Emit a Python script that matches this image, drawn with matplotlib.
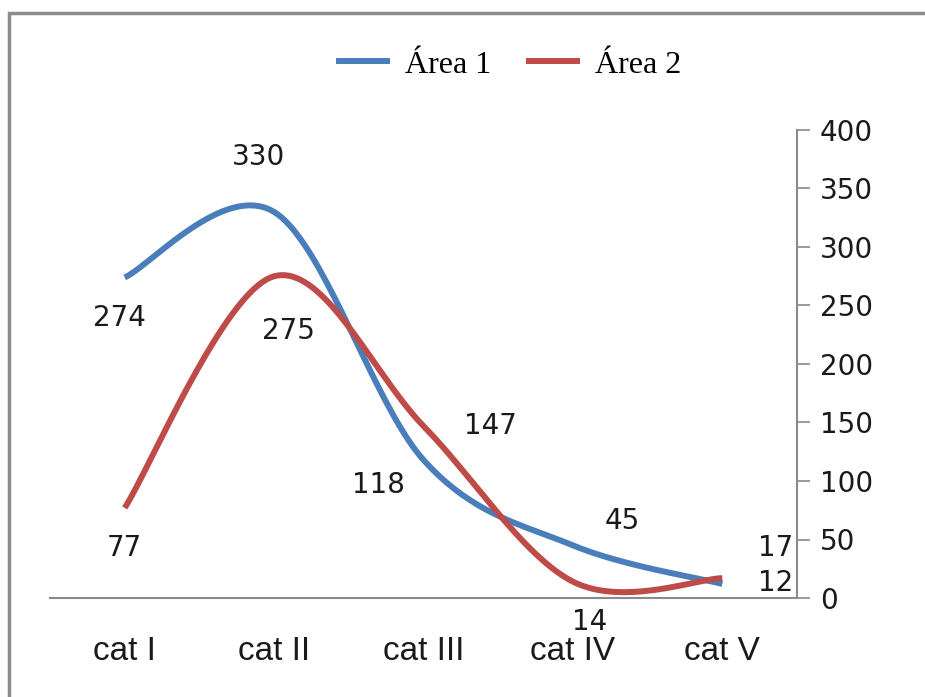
import numpy as np
import matplotlib
matplotlib.use("Agg")
import matplotlib.pyplot as plt
from matplotlib.patches import Rectangle
from matplotlib.lines import Line2D

categories = ["cat I", "cat II", "cat III", "cat IV", "cat V"]
area1 = [274, 330, 118, 45, 12]
area2 = [77, 275, 147, 14, 17]
series_names = ["Área 1", "Área 2"]
yticks = [0, 50, 100, 150, 200, 250, 300, 350, 400]

colors = ["#4a7ebb", "#be4b48"]
# label offsets in pixels (style only)
off1 = [(-5, -41), (-16, 55), (-45, -25), (49, 24), (53, 1)]
off2 = [(0, -40), (14, -55), (67, 0), (17, -40), (53, 30)]


def smooth(xs, ys, n=40):
    """Excel-like Catmull-Rom smoothing drawn through the data points."""
    P = np.column_stack([xs, ys]).astype(float)
    m = len(P)
    out = []
    for i in range(m - 1):
        p0 = P[i - 1] if i > 0 else P[i]
        p1 = P[i]
        p2 = P[i + 1]
        p3 = P[i + 2] if i + 2 < m else P[i + 1]
        c1 = p1 + (p2 - p0) / 6.0
        c2 = p2 - (p3 - p1) / 6.0
        t = np.linspace(0, 1, n)[:, None]
        seg = ((1 - t) ** 3) * p1 + 3 * ((1 - t) ** 2) * t * c1 + 3 * (1 - t) * t ** 2 * c2 + t ** 3 * p2
        out.append(seg if i == 0 else seg[1:])
    s = np.vstack(out)
    return s[:, 0], s[:, 1]


fig = plt.figure(figsize=(9.25, 6.97), dpi=100)
W, H = 925, 697
ax = fig.add_axes([50 / W, 1 - 598 / H, (797 - 50) / W, (598 - 130) / H])

x = np.arange(len(categories))
for vals, col, offs in [(area1, colors[0], off1), (area2, colors[1], off2)]:
    sx, sy = smooth(x, vals)
    ax.plot(sx, sy, color=col, lw=4.3, solid_capstyle="butt", zorder=3)
    for xi, v, (dx, dy) in zip(x, vals, offs):
        ax.annotate(str(v), (xi, v), xytext=(dx, dy), textcoords="offset pixels",
                    ha="center", va="center", fontsize=20, family="DejaVu Sans",
                    color="#1a1a1a", zorder=4)

ax.set_xlim(-0.5, 4.5)
ax.set_ylim(0, 400)
ax.set_xticks(x)
ax.set_xticklabels(categories, fontsize=24, family="Liberation Sans", color="#1a1a1a")
ax.set_yticks(yticks)
ax.set_yticklabels([str(t) for t in yticks], fontsize=20, family="DejaVu Sans", color="#1a1a1a")
ax.yaxis.tick_right()
ax.tick_params(axis="y", direction="out", length=9.5, width=1.2, color="#8a8a8a", pad=7)
ax.tick_params(axis="x", length=0, pad=27)
for s in ["top", "left"]:
    ax.spines[s].set_visible(False)
for s in ["bottom", "right"]:
    ax.spines[s].set_color("#8a8a8a")
    ax.spines[s].set_linewidth(1.5)

handles = [Line2D([], [], color=c, lw=4.3) for c in colors]
fig.legend(handles, series_names, loc="center", bbox_to_anchor=(510 / W, 1 - 65 / H),
           ncol=2, frameon=False, handlelength=1.5, handletextpad=0.55, columnspacing=1.2,
           prop={"family": "Liberation Serif", "size": 23})

fig.add_artist(Rectangle((9 / W, -0.1), 1.2, 1.1 - 13 / H, transform=fig.transFigure,
                         fill=False, edgecolor="#8c8c8c", lw=2.5))

fig.savefig("out.png", dpi=100)
